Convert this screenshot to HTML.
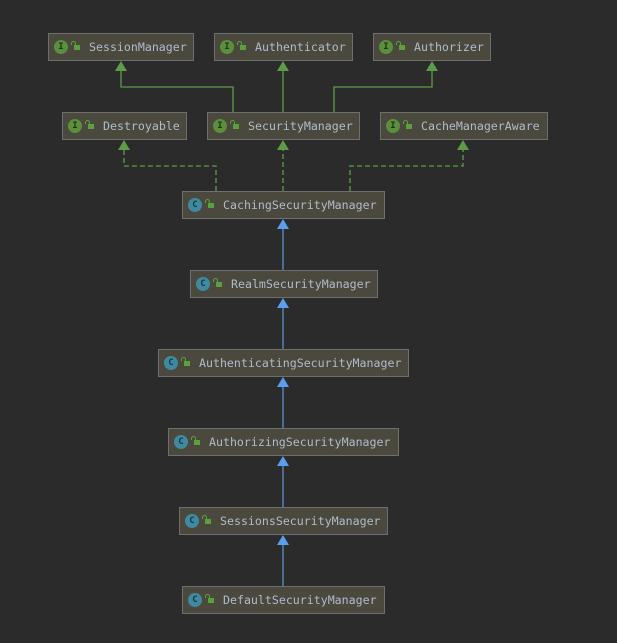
<!DOCTYPE html><html><head><style>
body{margin:0;width:617px;height:643px;background:#2b2b2b;position:relative;overflow:hidden;font-family:"DejaVu Sans Mono","Liberation Mono",monospace;}
.b{position:absolute;height:26px;background:#4b483e;border:1px solid #6e6e6e;color:#afbccb;font-size:11.6px;line-height:26px;box-sizing:content-box}
.b .ic{position:absolute;left:5px;top:6px;width:14px;height:14px;border-radius:50%;font-size:9px;line-height:14px;text-align:center;font-weight:bold}
.i .ic{background:#5a8f3c;color:#23341a}
.c .ic{background:#3f8aa0;color:#1d3640}
.b .lk{position:absolute;left:25px;top:11px;width:6px;height:5px;background:#5aa03c}
.b .lk:before{content:"";position:absolute;left:-3px;top:-4px;width:3px;height:3px;border:1px solid #5aa03c;border-bottom:none;border-radius:3px 3px 0 0}
.b span.t{position:absolute;left:40px;top:0}
</style></head><body>
<svg width="617" height="643" style="position:absolute;left:0;top:0">
<g stroke="#5e9b48" stroke-width="1.3" fill="none">
<path d="M233 112V87H121V70"/><path d="M283 112V70"/><path d="M334 112V87H432V70"/>
<g stroke-dasharray="5,3"><path d="M216 191V166H124V149"/><path d="M283 191V149"/><path d="M350 191V166H463V149"/></g>
</g>
<g fill="#5e9b48"><path d="M121 61l-6 10h12z"/><path d="M283 61l-6 10h12z"/><path d="M432 61l-6 10h12z"/><path d="M124 140l-6 10h12z"/><path d="M283 140l-6 10h12z"/><path d="M463 140l-6 10h12z"/></g>
<g stroke="#5b8fd0" stroke-width="1.3"><path d="M283 270V228"/><path d="M283 349V307"/><path d="M283 428V386"/><path d="M283 507V465"/><path d="M283 586V544"/></g>
<g fill="#5b9ef0"><path d="M283 219l-6 10h12z"/><path d="M283 298l-6 10h12z"/><path d="M283 377l-6 10h12z"/><path d="M283 456l-6 10h12z"/><path d="M283 535l-6 10h12z"/></g>
</svg>
<div class="b i" style="left:48px;top:33px;width:144px"><div class="ic">I</div><div class="lk"></div><span class="t">SessionManager</span></div>
<div class="b i" style="left:214px;top:33px;width:137px"><div class="ic">I</div><div class="lk"></div><span class="t">Authenticator</span></div>
<div class="b i" style="left:373px;top:33px;width:116px"><div class="ic">I</div><div class="lk"></div><span class="t">Authorizer</span></div>
<div class="b i" style="left:62px;top:112px;width:123px"><div class="ic">I</div><div class="lk"></div><span class="t">Destroyable</span></div>
<div class="b i" style="left:207px;top:112px;width:151px"><div class="ic">I</div><div class="lk"></div><span class="t">SecurityManager</span></div>
<div class="b i" style="left:380px;top:112px;width:166px"><div class="ic">I</div><div class="lk"></div><span class="t">CacheManagerAware</span></div>
<div class="b c" style="left:182px;top:191px;width:201px"><div class="ic">C</div><div class="lk"></div><span class="t">CachingSecurityManager</span></div>
<div class="b c" style="left:190px;top:270px;width:186px"><div class="ic">C</div><div class="lk"></div><span class="t">RealmSecurityManager</span></div>
<div class="b c" style="left:158px;top:349px;width:249px"><div class="ic">C</div><div class="lk"></div><span class="t">AuthenticatingSecurityManager</span></div>
<div class="b c" style="left:168px;top:428px;width:229px"><div class="ic">C</div><div class="lk"></div><span class="t">AuthorizingSecurityManager</span></div>
<div class="b c" style="left:179px;top:507px;width:207px"><div class="ic">C</div><div class="lk"></div><span class="t">SessionsSecurityManager</span></div>
<div class="b c" style="left:182px;top:586px;width:201px"><div class="ic">C</div><div class="lk"></div><span class="t">DefaultSecurityManager</span></div>
</body></html>
